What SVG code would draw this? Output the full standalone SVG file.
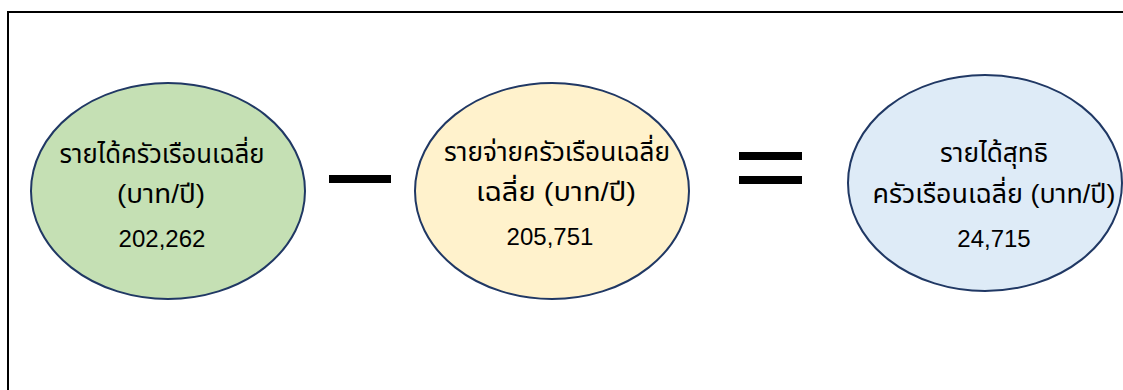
<svg xmlns="http://www.w3.org/2000/svg" width="1123" height="390" viewBox="0 0 1123 390">
<style>
.node ellipse{stroke:#203864;stroke-width:2}
text{font-family:"Liberation Sans","Noto Sans Thai","Noto Sans",sans-serif;font-size:24px;fill:#000;text-anchor:middle}
text.th{font-size:26px}
.op{fill:#000}
</style>
<rect width="1123" height="390" fill="#fff"/>
<rect x="8" y="12" width="1140" height="400" fill="none" stroke="#000" stroke-width="2"/>
<g id="income" class="node">
<ellipse cx="168" cy="191" rx="137" ry="108" fill="#C5E0B4"/>
<text class="th" x="162" y="163" textLength="205" lengthAdjust="spacingAndGlyphs">รายได้ครัวเรือนเฉลี่ย</text>
<text class="th" x="161" y="203" textLength="88" lengthAdjust="spacingAndGlyphs">(บาท/ปี)</text>
<text x="162" y="247">202,262</text>
</g>
<g id="expense" class="node">
<ellipse cx="552" cy="191" rx="137" ry="108" fill="#FFF2CC"/>
<text class="th" x="557" y="161" textLength="226" lengthAdjust="spacingAndGlyphs">รายจ่ายครัวเรือนเฉลี่ย</text>
<text class="th" x="556" y="201" textLength="160" lengthAdjust="spacingAndGlyphs">เฉลี่ย (บาท/ปี)</text>
<text x="550" y="245">205,751</text>
</g>
<g id="net" class="node">
<ellipse cx="985" cy="183" rx="137" ry="108" fill="#DEEBF7"/>
<text class="th" x="994" y="162" textLength="108" lengthAdjust="spacingAndGlyphs">รายได้สุทธิ</text>
<text class="th" x="994" y="203" textLength="243" lengthAdjust="spacingAndGlyphs">ครัวเรือนเฉลี่ย (บาท/ปี)</text>
<text x="994" y="247">24,715</text>
</g>
<g id="connectors">
<rect class="op" x="329" y="175" width="62" height="8"/>
<rect class="op" x="739" y="152" width="63" height="8"/>
<rect class="op" x="739" y="176" width="63" height="8"/>
</g>
</svg>
